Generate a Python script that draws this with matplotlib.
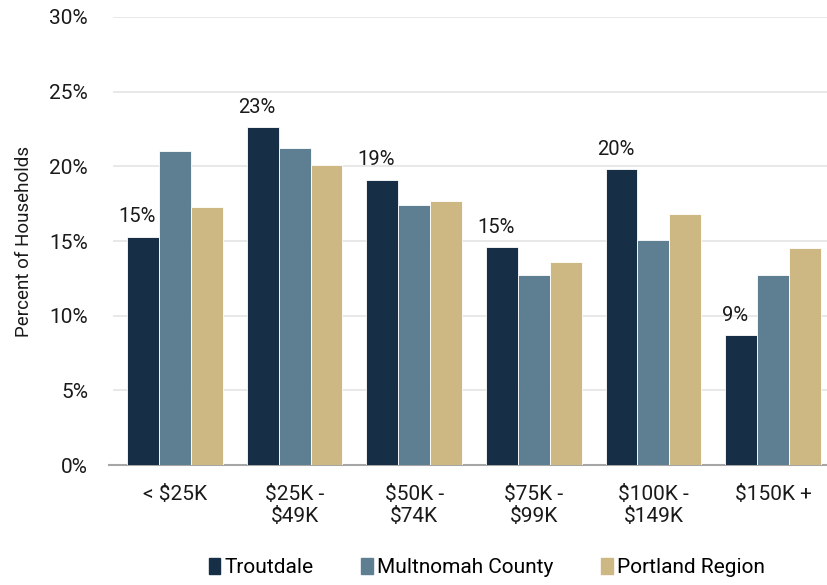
#!/usr/bin/env python3
"""Household income distribution: Troutdale vs Multnomah County vs Portland Region."""
import matplotlib

matplotlib.use("Agg")
import matplotlib.pyplot as plt
import numpy as np
from matplotlib.patches import Patch
from matplotlib.ticker import PercentFormatter

plt.rcParams["font.family"] = ["Roboto", "DejaVu Sans"]

categories = ["< $25K", "$25K -\n$49K", "$50K -\n$74K", "$75K -\n$99K", "$100K -\n$149K", "$150K +"]
troutdale = [15.3, 22.6, 19.1, 14.6, 19.8, 8.7]
multnomah = [21.0, 21.2, 17.4, 12.7, 15.1, 12.7]
portland = [17.3, 20.1, 17.7, 13.6, 16.8, 14.5]
series_names = ["Troutdale", "Multnomah County", "Portland Region"]

COLOURS = ["#172e47", "#5e7e91", "#cdb884"]

fig = plt.figure(figsize=(8.28, 5.85), dpi=100)
ax = fig.add_axes([0.1365, 0.205, 0.8635, 0.766])

x = np.arange(len(categories))
w = 0.8 / 3
for i, (vals, col) in enumerate(zip([troutdale, multnomah, portland], COLOURS)):
    ax.bar(x + (i - 1) * w, vals, width=w, color=col, edgecolor="white", linewidth=0.6, zorder=3)

# labels on the Troutdale bars only
for xi, v in zip(x, troutdale):
    ax.text(xi - w - 0.05, v + 0.7, f"{v:.0f}%", ha="center", va="bottom", fontsize=14.5, color="#1a1a1a")

ax.set_xlim(-0.518, 5.46)
ax.set_ylim(0, 30)
ax.set_yticks(range(0, 31, 5))
ax.yaxis.set_major_formatter(PercentFormatter(decimals=0))
ax.grid(axis="y", color="#e4e4e4", linewidth=1.2, zorder=0)
ax.set_axisbelow(True)
for s in ["top", "right", "left"]:
    ax.spines[s].set_visible(False)
ax.spines["bottom"].set_color("#a6a6a6")
ax.spines["bottom"].set_linewidth(1.5)
ax.spines["bottom"].set_bounds(-0.55, 5.46)
ax.tick_params(axis="both", length=0, labelsize=15, colors="#1a1a1a")
ax.tick_params(axis="y", pad=18)
ax.tick_params(axis="x", pad=14)
ax.set_xticks(x)
ax.set_xticklabels(categories, linespacing=1.25)
ax.set_ylabel("Percent of Households", fontsize=13.5, color="#1a1a1a", labelpad=12)

handles = [Patch(color=c, label=n) for c, n in zip(COLOURS, series_names)]
fig.legend(
    handles=handles,
    loc="lower center",
    bbox_to_anchor=(0.588, -0.018),
    ncol=3,
    frameon=False,
    fontsize=15,
    handlelength=0.55,
    handleheight=0.8,
    handletextpad=0.2,
    columnspacing=2.3,
)

fig.savefig("out.png", dpi=100)
plt.close(fig)
